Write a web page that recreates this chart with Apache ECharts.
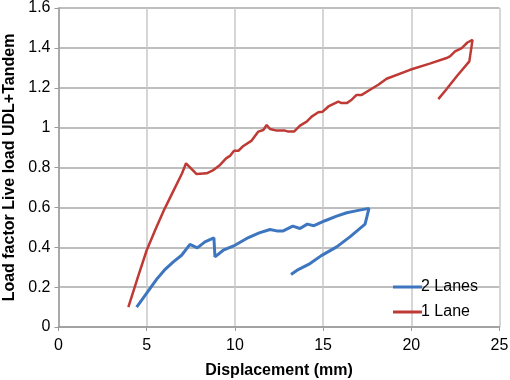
<!DOCTYPE html>
<html>
<head>
<meta charset="utf-8">
<script src="https://cdn.jsdelivr.net/npm/echarts@6/dist/echarts.min.js"></script>
<style>
html, body { margin: 0; padding: 0; background: #fff; }
#chart { width: 510px; height: 380px; }
</style>
</head>
<body>
<div id="chart"></div>
<script>
const seriesNames = ['2 Lanes', '1 Lane']

// 2 Lanes: displacement (mm) and load factor, loading then unloading
const lanes2Disp = [4.43, 5.0, 5.57, 6.0, 6.51, 6.98, 7.45, 7.87, 8.3, 8.81, 8.87, 9.34, 10.0, 10.67, 11.38, 11.99, 12.37, 12.74, 13.28, 13.69, 14.1, 14.48, 15.11, 15.77, 16.34, 17.0, 17.6, 17.38, 16.52, 15.77, 14.9, 14.26, 13.59, 13.18]
const lanes2Load = [0.10, 0.17, 0.24, 0.285, 0.327, 0.36, 0.414, 0.397, 0.427, 0.447, 0.352, 0.385, 0.41, 0.444, 0.472, 0.489, 0.482, 0.482, 0.506, 0.494, 0.516, 0.508, 0.533, 0.556, 0.573, 0.585, 0.595, 0.516, 0.452, 0.402, 0.358, 0.318, 0.288, 0.263]

// 1 Lane
const lane1Disp = [3.96, 4.5, 5.0, 5.5, 6.0, 6.5, 7.0, 7.23, 7.83, 8.4, 8.78, 9.16, 9.5, 9.72, 9.95, 10.2, 10.48, 10.95, 11.33, 11.61, 11.8, 11.99, 12.37, 12.84, 13.03, 13.35, 13.69, 14.07, 14.35, 14.73, 14.98, 15.3, 15.86, 16.05, 16.34, 16.62, 16.9, 17.19, 17.66, 18.13, 18.6, 19.93, 21.0, 22.0, 22.19, 22.48, 22.86, 23.18, 23.47, 23.29, 22.6, 21.97, 21.53]
const lane1Load = [0.10, 0.25, 0.385, 0.49, 0.59, 0.68, 0.77, 0.821, 0.767, 0.771, 0.787, 0.813, 0.846, 0.858, 0.884, 0.884, 0.908, 0.935, 0.98, 0.988, 1.013, 0.993, 0.985, 0.985, 0.98, 0.98, 1.01, 1.03, 1.055, 1.077, 1.08, 1.106, 1.13, 1.123, 1.123, 1.14, 1.164, 1.164, 1.19, 1.215, 1.245, 1.29, 1.32, 1.349, 1.357, 1.382, 1.399, 1.427, 1.44, 1.332, 1.26, 1.19, 1.143]

const xTicks = [0, 5, 10, 15, 20, 25]
const yTicks = [0, 0.2, 0.4, 0.6, 0.8, 1, 1.2, 1.4, 1.6]

const lineColors = ['#3d76bf', '#bf3a35']
const fontFamily = '"Liberation Sans", Arial, sans-serif'

const zip = (xs, ys) => xs.map((x, i) => [x, ys[i]])

const chart = echarts.init(document.getElementById('chart'), null, { renderer: 'canvas' })

chart.setOption({
    animation: false,
    color: lineColors,
    grid: {
        left: 58.5,
        right: 10.5,
        top: 8,
        bottom: 53,
        containLabel: false,
        outerBoundsMode: 'none',
    },
    legend: {
        orient: 'vertical',
        left: 388,
        top: 274,
        itemGap: 9,
        itemWidth: 29,
        itemHeight: 3,
        icon: 'rect',
        textStyle: {
            color: '#000',
            fontSize: 16,
            fontFamily: fontFamily,
            padding: [0, 0, 0, -6],
        },
        data: seriesNames,
    },
    xAxis: {
        type: 'value',
        min: xTicks[0],
        max: xTicks[xTicks.length - 1],
        interval: 5,
        name: 'Displacement (mm)',
        nameLocation: 'middle',
        nameGap: 36,
        nameTextStyle: {
            color: '#000',
            fontSize: 16,
            fontWeight: 'bold',
            fontFamily: fontFamily,
        },
        axisLine: { show: true, lineStyle: { color: '#9a9a9a', width: 1.5 } },
        axisTick: { show: true, length: 4, lineStyle: { color: '#9a9a9a' } },
        axisLabel: {
            color: '#000',
            fontSize: 16,
            fontFamily: fontFamily,
            margin: 11,
        },
        splitLine: { show: true, lineStyle: { color: '#c8c8c8', width: 1.5 } },
    },
    yAxis: {
        type: 'value',
        min: yTicks[0],
        max: yTicks[yTicks.length - 1],
        interval: 0.2,
        name: 'Load factor Live load UDL+Tandem',
        nameLocation: 'middle',
        nameGap: 41,
        nameTextStyle: {
            color: '#000',
            fontSize: 16,
            fontWeight: 'bold',
            fontFamily: fontFamily,
        },
        axisLine: { show: true, lineStyle: { color: '#9a9a9a', width: 1.5 } },
        axisTick: { show: true, length: 4, lineStyle: { color: '#9a9a9a' } },
        axisLabel: {
            color: '#000',
            fontSize: 16,
            fontFamily: fontFamily,
            margin: 8,
        },
        splitLine: { show: true, lineStyle: { color: '#a8a8a8', width: 1.5 } },
    },
    series: [
        {
            name: seriesNames[0],
            type: 'line',
            showSymbol: false,
            data: zip(lanes2Disp, lanes2Load),
            lineStyle: { width: 3, color: lineColors[0] },
            itemStyle: { color: lineColors[0] },
        },
        {
            name: seriesNames[1],
            type: 'line',
            showSymbol: false,
            data: zip(lane1Disp, lane1Load),
            lineStyle: { width: 2.5, color: lineColors[1] },
            itemStyle: { color: lineColors[1] },
        },
    ],
})
</script>
</body>
</html>
